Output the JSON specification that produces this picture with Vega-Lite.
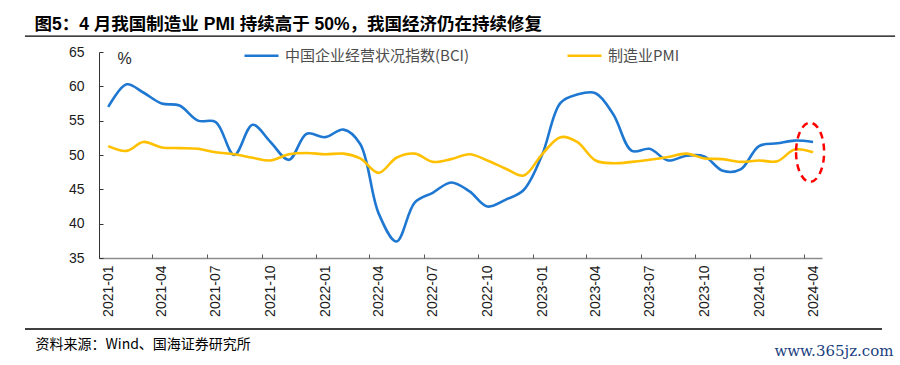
{
  "$schema": "https://vega.github.io/schema/vega-lite/v6.json",
  "width": 723,
  "height": 206,
  "autosize": {"type": "none"},
  "padding": {"left": 99, "top": 52, "right": 78, "bottom": 107},
  "background": "white",
  "config": {
    "view": {"stroke": null},
    "font": "Liberation Sans, Noto Sans CJK SC"
  },
  "resolve": {"axis": {"x": "independent", "y": "independent"}},
  "layer": [
    {
      "data": {"values": [
        {"date": "2021-01-01", "series": "中国企业经营状况指数(BCI)", "value": 57.0},
        {"date": "2021-02-01", "series": "中国企业经营状况指数(BCI)", "value": 60.3},
        {"date": "2021-03-01", "series": "中国企业经营状况指数(BCI)", "value": 59.1},
        {"date": "2021-04-01", "series": "中国企业经营状况指数(BCI)", "value": 57.5},
        {"date": "2021-05-01", "series": "中国企业经营状况指数(BCI)", "value": 57.2},
        {"date": "2021-06-01", "series": "中国企业经营状况指数(BCI)", "value": 55.0},
        {"date": "2021-07-01", "series": "中国企业经营状况指数(BCI)", "value": 54.8},
        {"date": "2021-08-01", "series": "中国企业经营状况指数(BCI)", "value": 50.0},
        {"date": "2021-09-01", "series": "中国企业经营状况指数(BCI)", "value": 54.4},
        {"date": "2021-10-01", "series": "中国企业经营状况指数(BCI)", "value": 51.9},
        {"date": "2021-11-01", "series": "中国企业经营状况指数(BCI)", "value": 49.3},
        {"date": "2021-12-01", "series": "中国企业经营状况指数(BCI)", "value": 53.1},
        {"date": "2022-01-01", "series": "中国企业经营状况指数(BCI)", "value": 52.6},
        {"date": "2022-02-01", "series": "中国企业经营状况指数(BCI)", "value": 53.7},
        {"date": "2022-03-01", "series": "中国企业经营状况指数(BCI)", "value": 51.6},
        {"date": "2022-04-01", "series": "中国企业经营状况指数(BCI)", "value": 41.5},
        {"date": "2022-05-01", "series": "中国企业经营状况指数(BCI)", "value": 37.4},
        {"date": "2022-06-01", "series": "中国企业经营状况指数(BCI)", "value": 43.1},
        {"date": "2022-07-01", "series": "中国企业经营状况指数(BCI)", "value": 44.5},
        {"date": "2022-08-01", "series": "中国企业经营状况指数(BCI)", "value": 46.0},
        {"date": "2022-09-01", "series": "中国企业经营状况指数(BCI)", "value": 44.7},
        {"date": "2022-10-01", "series": "中国企业经营状况指数(BCI)", "value": 42.5},
        {"date": "2022-11-01", "series": "中国企业经营状况指数(BCI)", "value": 43.5},
        {"date": "2022-12-01", "series": "中国企业经营状况指数(BCI)", "value": 44.9},
        {"date": "2023-01-01", "series": "中国企业经营状况指数(BCI)", "value": 50.0},
        {"date": "2023-02-01", "series": "中国企业经营状况指数(BCI)", "value": 57.6},
        {"date": "2023-03-01", "series": "中国企业经营状况指数(BCI)", "value": 58.8},
        {"date": "2023-04-01", "series": "中国企业经营状况指数(BCI)", "value": 59.0},
        {"date": "2023-05-01", "series": "中国企业经营状况指数(BCI)", "value": 55.9},
        {"date": "2023-06-01", "series": "中国企业经营状况指数(BCI)", "value": 50.6},
        {"date": "2023-07-01", "series": "中国企业经营状况指数(BCI)", "value": 50.9},
        {"date": "2023-08-01", "series": "中国企业经营状况指数(BCI)", "value": 49.2},
        {"date": "2023-09-01", "series": "中国企业经营状况指数(BCI)", "value": 49.9},
        {"date": "2023-10-01", "series": "中国企业经营状况指数(BCI)", "value": 49.8},
        {"date": "2023-11-01", "series": "中国企业经营状况指数(BCI)", "value": 47.7},
        {"date": "2023-12-01", "series": "中国企业经营状况指数(BCI)", "value": 47.9},
        {"date": "2024-01-01", "series": "中国企业经营状况指数(BCI)", "value": 51.3},
        {"date": "2024-02-01", "series": "中国企业经营状况指数(BCI)", "value": 51.7},
        {"date": "2024-03-01", "series": "中国企业经营状况指数(BCI)", "value": 52.1},
        {"date": "2024-04-01", "series": "中国企业经营状况指数(BCI)", "value": 51.9},
        {"date": "2021-01-01", "series": "制造业PMI", "value": 51.3},
        {"date": "2021-02-01", "series": "制造业PMI", "value": 50.6},
        {"date": "2021-03-01", "series": "制造业PMI", "value": 51.9},
        {"date": "2021-04-01", "series": "制造业PMI", "value": 51.1},
        {"date": "2021-05-01", "series": "制造业PMI", "value": 51.0},
        {"date": "2021-06-01", "series": "制造业PMI", "value": 50.9},
        {"date": "2021-07-01", "series": "制造业PMI", "value": 50.4},
        {"date": "2021-08-01", "series": "制造业PMI", "value": 50.1},
        {"date": "2021-09-01", "series": "制造业PMI", "value": 49.6},
        {"date": "2021-10-01", "series": "制造业PMI", "value": 49.2},
        {"date": "2021-11-01", "series": "制造业PMI", "value": 50.1},
        {"date": "2021-12-01", "series": "制造业PMI", "value": 50.3},
        {"date": "2022-01-01", "series": "制造业PMI", "value": 50.1},
        {"date": "2022-02-01", "series": "制造业PMI", "value": 50.2},
        {"date": "2022-03-01", "series": "制造业PMI", "value": 49.5},
        {"date": "2022-04-01", "series": "制造业PMI", "value": 47.4},
        {"date": "2022-05-01", "series": "制造业PMI", "value": 49.6},
        {"date": "2022-06-01", "series": "制造业PMI", "value": 50.2},
        {"date": "2022-07-01", "series": "制造业PMI", "value": 49.0},
        {"date": "2022-08-01", "series": "制造业PMI", "value": 49.4},
        {"date": "2022-09-01", "series": "制造业PMI", "value": 50.1},
        {"date": "2022-10-01", "series": "制造业PMI", "value": 49.2},
        {"date": "2022-11-01", "series": "制造业PMI", "value": 48.0},
        {"date": "2022-12-01", "series": "制造业PMI", "value": 47.0},
        {"date": "2023-01-01", "series": "制造业PMI", "value": 50.1},
        {"date": "2023-02-01", "series": "制造业PMI", "value": 52.6},
        {"date": "2023-03-01", "series": "制造业PMI", "value": 51.9},
        {"date": "2023-04-01", "series": "制造业PMI", "value": 49.2},
        {"date": "2023-05-01", "series": "制造业PMI", "value": 48.8},
        {"date": "2023-06-01", "series": "制造业PMI", "value": 49.0},
        {"date": "2023-07-01", "series": "制造业PMI", "value": 49.3},
        {"date": "2023-08-01", "series": "制造业PMI", "value": 49.7},
        {"date": "2023-09-01", "series": "制造业PMI", "value": 50.2},
        {"date": "2023-10-01", "series": "制造业PMI", "value": 49.5},
        {"date": "2023-11-01", "series": "制造业PMI", "value": 49.4},
        {"date": "2023-12-01", "series": "制造业PMI", "value": 49.0},
        {"date": "2024-01-01", "series": "制造业PMI", "value": 49.2},
        {"date": "2024-02-01", "series": "制造业PMI", "value": 49.1},
        {"date": "2024-03-01", "series": "制造业PMI", "value": 50.8},
        {"date": "2024-04-01", "series": "制造业PMI", "value": 50.4}
      ]},
      "mark": {"type": "line", "interpolate": "catmull-rom", "strokeWidth": 2.6},
      "encoding": {
        "x": {
          "field": "date",
          "type": "temporal",
          "scale": {
            "type": "utc",
            "domain": [
              {"year": 2020, "month": 12, "date": 16, "hours": 12, "utc": true},
              {"year": 2024, "month": 4, "date": 16, "utc": true}
            ]
          },
          "axis": {
            "orient": "bottom",
            "values": [
              {"year": 2021, "month": 1, "date": 1, "utc": true},
              {"year": 2021, "month": 4, "date": 1, "utc": true},
              {"year": 2021, "month": 7, "date": 1, "utc": true},
              {"year": 2021, "month": 10, "date": 1, "utc": true},
              {"year": 2022, "month": 1, "date": 1, "utc": true},
              {"year": 2022, "month": 4, "date": 1, "utc": true},
              {"year": 2022, "month": 7, "date": 1, "utc": true},
              {"year": 2022, "month": 10, "date": 1, "utc": true},
              {"year": 2023, "month": 1, "date": 1, "utc": true},
              {"year": 2023, "month": 4, "date": 1, "utc": true},
              {"year": 2023, "month": 7, "date": 1, "utc": true},
              {"year": 2023, "month": 10, "date": 1, "utc": true},
              {"year": 2024, "month": 1, "date": 1, "utc": true},
              {"year": 2024, "month": 4, "date": 1, "utc": true}
            ],
            "format": "%Y-%m",
            "labelAngle": 270,
            "labelAlign": "right",
            "labelBaseline": "middle",
            "labelPadding": 7,
            "labelFontSize": 14,
            "labelColor": "#1a1a1a",
            "labelFont": "Liberation Sans",
            "labelOverlap": false,
            "labelFlush": false,
            "ticks": false,
            "grid": false,
            "domain": true,
            "domainColor": "#8c8c8c",
            "domainWidth": 1.5,
            "title": "资料来源：Wind、国海证券研究所",
            "titleAnchor": "start",
            "titleAlign": "left",
            "titleBaseline": "middle",
            "titleX": -64,
            "titleY": 86,
            "titleFont": "Noto Sans CJK SC",
            "titleFontSize": 14,
            "titleFontWeight": "normal",
            "titleColor": "#000000"
          }
        },
        "y": {
          "field": "value",
          "type": "quantitative",
          "scale": {"domain": [35, 65], "nice": false, "zero": false},
          "axis": {
            "orient": "left",
            "values": [35, 40, 45, 50, 55, 60, 65],
            "grid": false,
            "domainColor": "#333333",
            "domainWidth": 1,
            "ticks": true,
            "tickColor": "#333333",
            "tickWidth": 1,
            "tickSize": -4,
            "labelPadding": 19,
            "labelOverlap": false,
            "labelFontSize": 14,
            "labelColor": "#1a1a1a",
            "labelFont": "Liberation Sans",
            "labelFlush": false,
            "title": "%",
            "titleAngle": 0,
            "titleAlign": "center",
            "titleBaseline": "middle",
            "titleX": 25,
            "titleY": 6,
            "titleFont": "Liberation Sans",
            "titleFontSize": 16,
            "titleFontWeight": "normal",
            "titleColor": "#262626"
          }
        },
        "color": {
          "field": "series",
          "type": "nominal",
          "sort": ["中国企业经营状况指数(BCI)", "制造业PMI"],
          "scale": {
            "domain": ["中国企业经营状况指数(BCI)", "制造业PMI"],
            "range": ["#1E78D2", "#FFC000"]
          },
          "legend": {
            "orient": "none",
            "legendX": 144,
            "legendY": -15,
            "direction": "horizontal",
            "title": null,
            "symbolType": "stroke",
            "symbolSize": 1156,
            "symbolStrokeWidth": 2.6,
            "labelFont": "Noto Sans CJK SC",
            "labelFontSize": 15,
            "labelColor": "#4d4d4d",
            "labelOffset": 5,
            "labelLimit": 300,
            "columnPadding": 93
          }
        }
      }
    },
    {
      "data": {"values": [{"date": "2024-04-01", "value": 50.4}]},
      "mark": {
        "type": "point",
        "shape": "M -0.475 0 A 0.475 1 0 1 0 0.475 0 A 0.475 1 0 1 0 -0.475 0 Z",
        "size": 3481,
        "filled": false,
        "stroke": "#FF0000",
        "strokeWidth": 2.5,
        "strokeDash": [7, 5],
        "opacity": 1,
        "xOffset": -3
      },
      "encoding": {
        "x": {
          "field": "date",
          "type": "temporal",
          "axis": {
            "orient": "bottom",
            "values": [
              {"year": 2021, "month": 3, "date": 16, "hours": 12, "utc": true},
              {"year": 2021, "month": 6, "date": 16, "utc": true},
              {"year": 2021, "month": 9, "date": 16, "utc": true},
              {"year": 2021, "month": 12, "date": 16, "hours": 12, "utc": true},
              {"year": 2022, "month": 3, "date": 16, "hours": 12, "utc": true},
              {"year": 2022, "month": 6, "date": 16, "utc": true},
              {"year": 2022, "month": 9, "date": 16, "utc": true},
              {"year": 2022, "month": 12, "date": 16, "hours": 12, "utc": true},
              {"year": 2023, "month": 3, "date": 16, "hours": 12, "utc": true},
              {"year": 2023, "month": 6, "date": 16, "utc": true},
              {"year": 2023, "month": 9, "date": 16, "utc": true},
              {"year": 2023, "month": 12, "date": 16, "hours": 12, "utc": true},
              {"year": 2024, "month": 3, "date": 16, "hours": 12, "utc": true}
            ],
            "labels": false,
            "domain": false,
            "grid": false,
            "ticks": true,
            "tickSize": -4,
            "tickColor": "#595959",
            "tickWidth": 1,
            "title": "www.365jz.com",
            "titleAnchor": "start",
            "titleAlign": "right",
            "titleBaseline": "middle",
            "titleX": 794,
            "titleY": 92,
            "titleFont": "DejaVu Serif",
            "titleFontSize": 15,
            "titleFontWeight": "normal",
            "titleColor": "#1a3f80"
          }
        },
        "y": {"field": "value", "type": "quantitative", "axis": null}
      }
    },
    {
      "data": {"values": [{"label": "图5：4 月我国制造业 PMI 持续高于 50%，我国经济仍在持续修复"}]},
      "mark": {
        "type": "text",
        "align": "left",
        "baseline": "middle",
        "font": "Liberation Sans, Noto Sans CJK SC",
        "fontSize": 17.5,
        "fontWeight": "bold",
        "color": "#000000",
        "clip": false
      },
      "encoding": {
        "x": {"datum": {"year": 2020, "month": 8, "date": 30, "utc": true}, "type": "temporal", "axis": null},
        "y": {"datum": 68.9, "type": "quantitative", "axis": null},
        "text": {"field": "label"}
      }
    },
    {
      "data": {"values": [{"line": "title"}]},
      "mark": {"type": "rule", "color": "#000000", "strokeWidth": 1.3, "clip": false},
      "encoding": {
        "x": {"datum": {"year": 2020, "month": 8, "date": 14, "utc": true}, "type": "temporal", "axis": null},
        "x2": {"datum": {"year": 2024, "month": 8, "date": 17, "utc": true}},
        "y": {"datum": 67.3, "type": "quantitative", "axis": null}
      }
    },
    {
      "data": {"values": [{"line": "footer"}]},
      "mark": {"type": "rule", "color": "#000000", "strokeWidth": 1.3, "clip": false},
      "encoding": {
        "x": {"datum": {"year": 2020, "month": 8, "date": 14, "utc": true}, "type": "temporal", "axis": null},
        "x2": {"datum": {"year": 2024, "month": 7, "date": 26, "utc": true}},
        "y": {"datum": 24.66, "type": "quantitative", "axis": null}
      }
    }
  ]
}
